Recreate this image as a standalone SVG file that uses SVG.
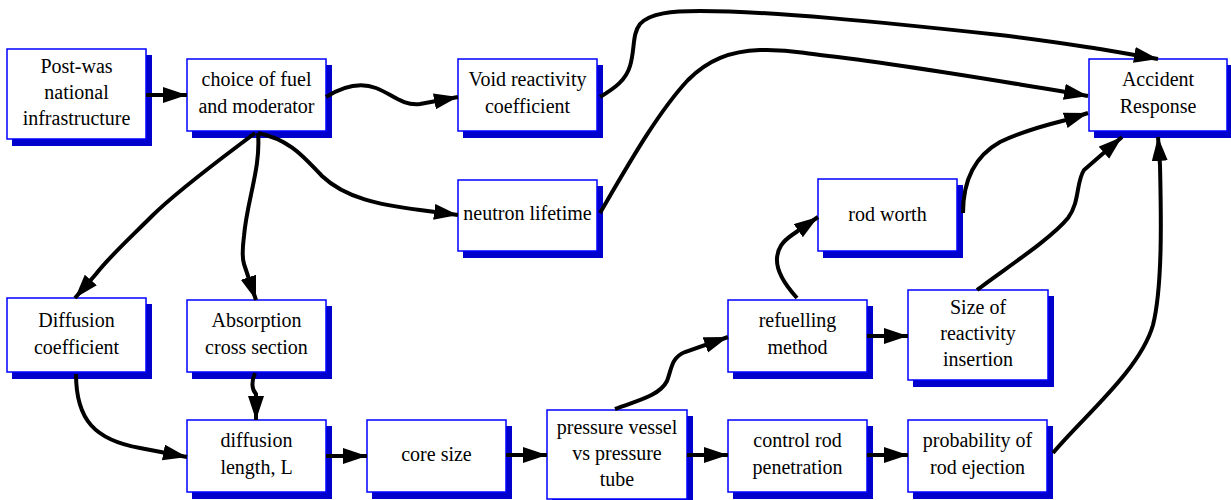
<svg xmlns="http://www.w3.org/2000/svg" width="1231" height="500" viewBox="0 0 1231 500">
<style>
.box{fill:#ffffff;stroke:#0000ff;stroke-width:1.5}
.sh{fill:#0000cc}
.t{font-size:20px;fill:#000;text-anchor:middle}
.c{fill:none;stroke:#000;stroke-width:4;marker-end:url(#ah)}
</style>
<defs>
<marker id="ah" markerUnits="userSpaceOnUse" markerWidth="26" markerHeight="18" refX="24" refY="8" orient="auto">
<path d="M0,0 L24,8 L0,16 z" fill="#000"/>
</marker>
</defs>
<rect width="1231" height="500" fill="#ffffff"/>
<g font-family="Liberation Serif, Times New Roman, DejaVu Serif, serif">
<g id="n-postwar"><rect class="sh" x="12" y="55" width="140" height="91"/><rect class="box" x="7" y="49" width="139" height="90"/><text class="t" x="76.5" y="73">Post-was</text><text class="t" x="76.5" y="99">national</text><text class="t" x="76.5" y="125">infrastructure</text></g>
<g id="n-choice"><rect class="sh" x="192" y="65" width="140" height="73"/><rect class="box" x="187" y="59" width="139" height="72"/><text class="t" x="256.5" y="86">choice of fuel</text><text class="t" x="256.5" y="113">and moderator</text></g>
<g id="n-void"><rect class="sh" x="463" y="65" width="140" height="73"/><rect class="box" x="458" y="59" width="139" height="72"/><text class="t" x="527.5" y="86">Void reactivity</text><text class="t" x="527.5" y="113">coefficient</text></g>
<g id="n-neutron"><rect class="sh" x="463" y="186" width="140" height="72"/><rect class="box" x="458" y="180" width="139" height="71"/><text class="t" x="527.5" y="220">neutron lifetime</text></g>
<g id="n-accident"><rect class="sh" x="1094" y="65" width="139" height="73"/><rect class="box" x="1089" y="59" width="138" height="72"/><text class="t" x="1158" y="86">Accident</text><text class="t" x="1158" y="113">Response</text></g>
<g id="n-diffcoef"><rect class="sh" x="12" y="304" width="140" height="75"/><rect class="box" x="7" y="298" width="139" height="74"/><text class="t" x="76.5" y="327">Diffusion</text><text class="t" x="76.5" y="354">coefficient</text></g>
<g id="n-absorption"><rect class="sh" x="192" y="306" width="140" height="73"/><rect class="box" x="187" y="300" width="139" height="72"/><text class="t" x="256.5" y="327">Absorption</text><text class="t" x="256.5" y="354">cross section</text></g>
<g id="n-rodworth"><rect class="sh" x="823" y="185" width="140" height="73"/><rect class="box" x="818" y="179" width="139" height="72"/><text class="t" x="887.5" y="221">rod worth</text></g>
<g id="n-refuelling"><rect class="sh" x="733" y="306" width="140" height="73"/><rect class="box" x="728" y="300" width="139" height="72"/><text class="t" x="797.5" y="327">refuelling</text><text class="t" x="797.5" y="354">method</text></g>
<g id="n-size"><rect class="sh" x="913" y="296" width="141" height="91"/><rect class="box" x="908" y="290" width="140" height="90"/><text class="t" x="978" y="314">Size of</text><text class="t" x="978" y="340">reactivity</text><text class="t" x="978" y="366">insertion</text></g>
<g id="n-difflen"><rect class="sh" x="192" y="426" width="140" height="73"/><rect class="box" x="187" y="420" width="139" height="72"/><text class="t" x="256.5" y="447">diffusion</text><text class="t" x="256.5" y="474">length, L</text></g>
<g id="n-core"><rect class="sh" x="372" y="426" width="140" height="73"/><rect class="box" x="367" y="420" width="139" height="72"/><text class="t" x="436.5" y="461">core size</text></g>
<g id="n-pressure"><rect class="sh" x="552" y="416" width="141" height="90"/><rect class="box" x="547" y="410" width="140" height="89"/><text class="t" x="617" y="434">pressure vessel</text><text class="t" x="617" y="460">vs pressure</text><text class="t" x="617" y="486">tube</text></g>
<g id="n-control"><rect class="sh" x="733" y="426" width="140" height="73"/><rect class="box" x="728" y="420" width="139" height="72"/><text class="t" x="797.5" y="447">control rod</text><text class="t" x="797.5" y="474">penetration</text></g>
<g id="n-prob"><rect class="sh" x="913" y="426" width="140" height="73"/><rect class="box" x="908" y="420" width="139" height="72"/><text class="t" x="977.5" y="447">probability of</text><text class="t" x="977.5" y="474">rod ejection</text></g>
</g>
<g id="connectors">
<path class="c" d="M146,95 L187,95"/>
<path class="c" d="M326,97 C342,87 360,82 376,88 C392,94 402,106 420,104 L458,97"/>
<path class="c" d="M258,133 C292,140 306,160 322,176 C345,198 380,205 420,210 L458,215"/>
<path class="c" d="M255,133 C222,158 178,190 152,216 C130,238 110,256 96,274 L75,298"/>
<path class="c" d="M258,133 C261,168 247,200 244,236 C242,252 242,258 244,264 L256,300"/>
<path class="c" d="M600,97 C615,88 626,80 630,66 C635,50 632,34 640,24 C650,13 672,11 700,11 C770,11 880,22 1000,35 C1050,41 1080,46 1100,49 L1158,59"/>
<path class="c" d="M600,213 C628,165 658,112 688,80 C708,60 730,51 760,50 C790,49 800,53 820,55 C900,64 980,78 1060,91 L1088,96"/>
<path class="c" d="M963,213 C963,180 975,156 1000,142 C1025,130 1050,124 1066,120 L1088,113"/>
<path class="c" d="M977,290 C1000,272 1050,240 1068,218 C1080,202 1076,182 1084,170 L1122,137"/>
<path class="c" d="M1053,453 C1085,415 1140,370 1153,325 C1163,285 1161,210 1160,165 L1158,137"/>
<path class="c" d="M255,373 C251,382 252,390 256,394 L256,420"/>
<path class="c" d="M76,374 C76,420 95,440 140,448 L187,457"/>
<path class="c" d="M326,456 L367,456"/>
<path class="c" d="M506,455 L547,455"/>
<path class="c" d="M687,455 L728,455"/>
<path class="c" d="M867,455 L908,455"/>
<path class="c" d="M867,336 L908,336"/>
<path class="c" d="M615,409 C640,400 660,395 667,381 C672,368 671,358 685,352 L728,337"/>
<path class="c" d="M797,298 C785,285 776,272 777,258 C778,248 782,242 792,235 L818,217"/>
</g>
</svg>
